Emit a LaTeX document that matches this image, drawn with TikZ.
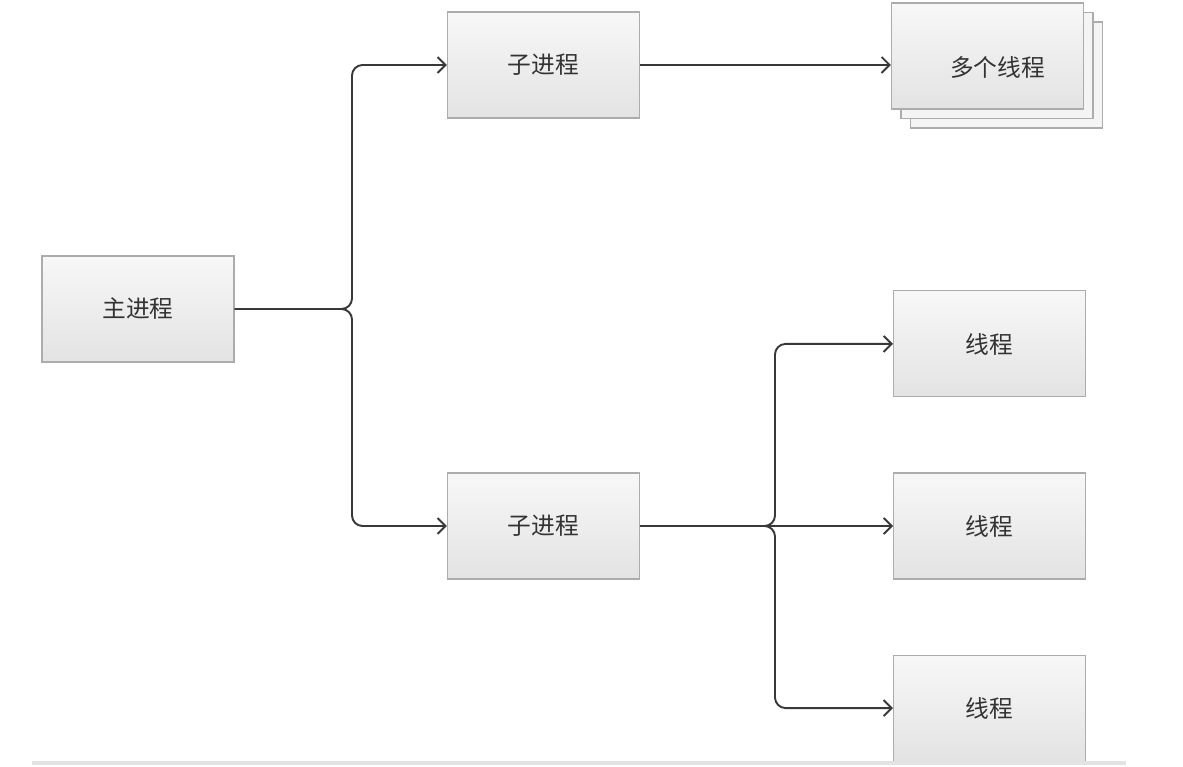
\documentclass[tikz,border=0pt]{standalone}
\usepackage{fontspec}
\newfontfamily\cjk{Noto Sans CJK SC}
\usepackage{tikz}
\usetikzlibrary{arrows.meta,positioning,calc}

\begin{document}
\begin{tikzpicture}[
    node distance=1.5cm and 5.06cm,
    font=\cjk\fontsize{13.5}{16}\selectfont,
    procbox/.style={rectangle, draw=gray!65, line width=0.6pt, top color=gray!6, bottom color=gray!22, text=black!80, minimum width=3.84cm, minimum height=2.12cm, inner sep=0pt},
    backbox/.style={rectangle, draw=gray!65, line width=0.6pt, fill=gray!9, minimum width=3.84cm, minimum height=2.12cm},
    link/.style={-{Straight Barb[length=0.16cm,width=0.32cm]}, line width=1.1pt, draw=black!78, rounded corners=6pt}
]
    \useasboundingbox (0,0) rectangle (23.66,-15.34);

    \node (main) [procbox] at (2.76,-6.18) {主进程};
    \node (sub1) [procbox] at (10.87,-1.30) {子进程};
    \node (sub2) [procbox] at (10.87,-10.52) {子进程};

    % stacked threads
    \node (multiC) [backbox] at (20.13,-1.50) {};
    \node (multiB) [backbox] at (19.94,-1.31) {};
    \node (multi) [procbox, label={[xshift=0.2cm, yshift=-0.22cm, text=black!80]center:多个线程}] at (19.75,-1.12) {};

    \node (thr2) [procbox, right=of sub2] {线程};
    \node (thr1) [procbox, above=of thr2] {线程};
    \node (thr3) [procbox, below=of thr2] {线程};

    \coordinate (j1) at (7.04,-6.18);
    \coordinate (j2) at (15.50,-10.52);

    \draw [link] (main.east) -- (j1) |- (sub1.west);
    \draw [link] (main.east) -- (j1) |- (sub2.west);
    \draw [link] (sub1.east) -- (sub1.east -| multi.west);
    \draw [link] (sub2.east) -- (j2) |- (thr1.west);
    \draw [link] (sub2.east) -- (j2) |- (thr3.west);
    \draw [link] (sub2.east) -- (thr2.west);

    \draw [gray!22, line width=2.2pt] (0.64,-15.26) -- (22.52,-15.26);
\end{tikzpicture}
\end{document}
